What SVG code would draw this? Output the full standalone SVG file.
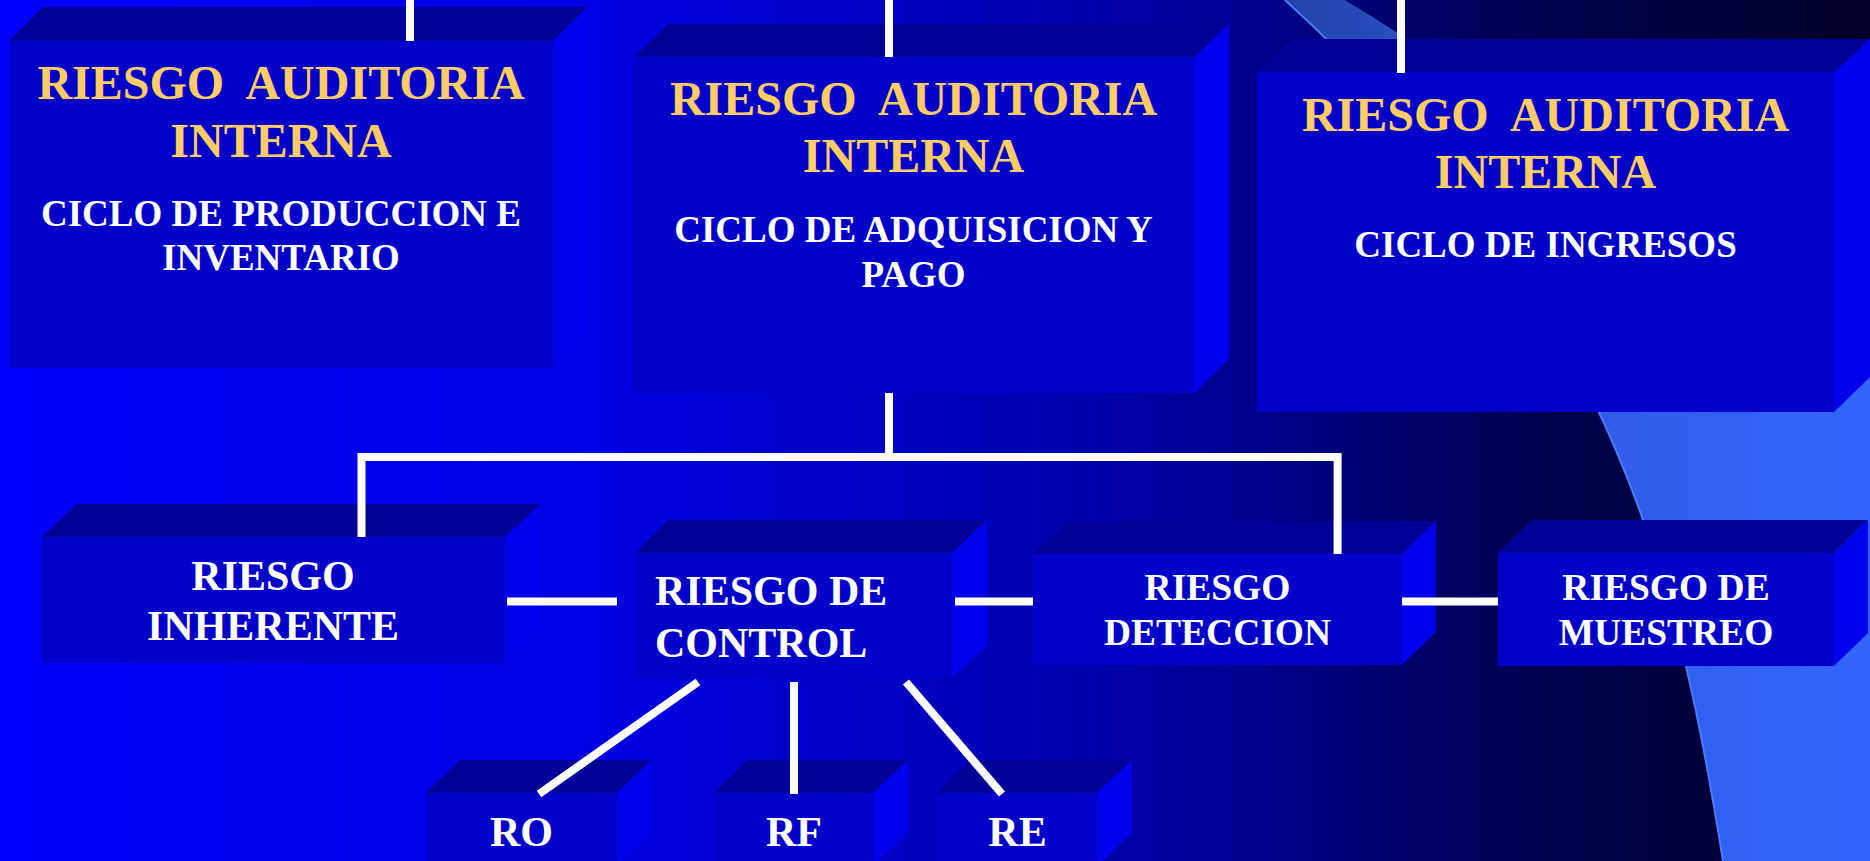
<svg xmlns="http://www.w3.org/2000/svg" width="1870" height="861" viewBox="0 0 1870 861">
<defs>
<linearGradient id="bg" x1="0" y1="0" x2="1870" y2="0" gradientUnits="userSpaceOnUse">
<stop offset="0" stop-color="#0000FF"/>
<stop offset="0.3" stop-color="#0000E6"/>
<stop offset="0.6" stop-color="#0000A8"/>
<stop offset="0.82" stop-color="#000050"/>
<stop offset="1" stop-color="#000028"/>
</linearGradient>
<linearGradient id="band" x1="1285" y1="0" x2="1870" y2="0" gradientUnits="userSpaceOnUse">
<stop offset="0" stop-color="#2244A8"/>
<stop offset="0.5" stop-color="#2F5CE6"/>
<stop offset="1" stop-color="#3366FF"/>
</linearGradient>
<style>
.front{fill:#0000C8;}
.top{fill:#000099;}
.side{fill:#0000EC;}
.or{font-family:"Liberation Serif","Times New Roman",serif;font-weight:bold;font-size:48px;fill:#FFCC66;text-anchor:middle;white-space:pre;}
.wt{font-family:"Liberation Serif","Times New Roman",serif;font-weight:bold;font-size:37px;fill:#FFFFFF;text-anchor:middle;}
.wl{font-family:"Liberation Serif","Times New Roman",serif;font-weight:bold;font-size:42px;fill:#FFFFFF;text-anchor:middle;}
.ws{font-family:"Liberation Serif","Times New Roman",serif;font-weight:bold;font-size:37.5px;fill:#FFFFFF;text-anchor:middle;}
.conn{stroke:#FFFFFF;stroke-width:8;fill:none;}
</style>
</defs>
<rect x="0" y="0" width="1870" height="861" fill="url(#bg)"/>
<path d="M1285,0 C1620.5,305 1681,597 1723,861 L1870,861 L1870,310 C1700,260 1512,100 1345,0 Z" fill="url(#band)"/>
<path d="M1285,0 C1620.5,305 1681,597 1723,861" fill="none" stroke="#4A7BFF" stroke-width="2"/>

<g id="box-produccion">
<polygon class="top" points="9,41 43,7 588,7 553,41"/>
<polygon class="side" points="553,41 588,7 588,334 553,368"/>
<rect class="front" x="9" y="41" width="544" height="327"/>
<text class="or" x="281" y="99" xml:space="preserve">RIESGO  AUDITORIA</text>
<text class="or" x="281" y="157">INTERNA</text>
<text class="wt" x="281" y="226">CICLO DE PRODUCCION E</text>
<text class="wt" x="281" y="270">INVENTARIO</text>
</g>

<g id="box-adquisicion">
<polygon class="top" points="634,57 668,24 1229,24 1194,57"/>
<polygon class="side" points="1194,57 1229,24 1229,359 1194,393"/>
<rect class="front" x="634" y="57" width="560" height="336"/>
<text class="or" x="913.5" y="115" xml:space="preserve">RIESGO  AUDITORIA</text>
<text class="or" x="913.5" y="172">INTERNA</text>
<text class="wt" x="913.5" y="242">CICLO DE ADQUISICION Y</text>
<text class="wt" x="913.5" y="287">PAGO</text>
</g>

<g id="box-ingresos">
<polygon class="top" points="1257,72 1293,39 1870,39 1834,72"/>
<polygon class="side" points="1834,72 1870,39 1870,377 1834,412"/>
<rect class="front" x="1257" y="72" width="577" height="340"/>
<text class="or" x="1545.5" y="131" xml:space="preserve">RIESGO  AUDITORIA</text>
<text class="or" x="1545.5" y="188">INTERNA</text>
<text class="wt" x="1545.5" y="257">CICLO DE INGRESOS</text>
</g>

<g id="box-inherente">
<polygon class="top" points="41.5,537 76.5,504 541,504 505,537"/>
<polygon class="side" points="505,537 541,504 541,630 505,663"/>
<rect class="front" x="41.5" y="537" width="463.5" height="126"/>
<text class="wl" x="273" y="590">RIESGO</text>
<text class="wl" x="273" y="640">INHERENTE</text>
</g>

<g id="box-control">
<polygon class="top" points="634.6,553 668,520 987,520 952,553"/>
<polygon class="side" points="952,553 987,520 987,645 952,678"/>
<rect class="front" x="634.6" y="553" width="317.4" height="125"/>
<text class="wl" x="655" y="605" style="text-anchor:start">RIESGO DE</text>
<text class="wl" x="655" y="657" style="text-anchor:start">CONTROL</text>
</g>

<g id="box-deteccion">
<polygon class="top" points="1033,554 1067,521 1436,521 1402,554"/>
<polygon class="side" points="1402,554 1436,521 1436,632 1402,665"/>
<rect class="front" x="1033" y="554" width="369" height="111"/>
<text class="ws" x="1217.5" y="600">RIESGO</text>
<text class="ws" x="1217.5" y="645">DETECCION</text>
</g>

<g id="box-muestreo">
<polygon class="top" points="1498,553 1532,520 1868,520 1834,553"/>
<polygon class="side" points="1834,553 1868,520 1868,633 1834,666"/>
<rect class="front" x="1498" y="553" width="336" height="113"/>
<text class="ws" x="1666" y="600">RIESGO DE</text>
<text class="ws" x="1666" y="645">MUESTREO</text>
</g>

<g id="box-ro">
<polygon class="top" points="425.5,793 460,760 651.5,760 617,793"/>
<polygon class="side" points="617,793 651.5,760 651.5,833 617,866"/>
<rect class="front" x="425.5" y="793" width="191.5" height="73"/>
<text class="wl" x="521.5" y="846">RO</text>
</g>

<g id="box-rf">
<polygon class="top" points="714,793 747,760 907.6,760 873.5,793"/>
<polygon class="side" points="873.5,793 907.6,760 907.6,833 873.5,866"/>
<rect class="front" x="714" y="793" width="159.5" height="73"/>
<text class="wl" x="794" y="846">RF</text>
</g>

<g id="box-re">
<polygon class="top" points="937,793 970,760 1132,760 1097,793"/>
<polygon class="side" points="1097,793 1132,760 1132,833 1097,866"/>
<rect class="front" x="937" y="793" width="160" height="73"/>
<text class="wl" x="1017.5" y="846">RE</text>
</g>

<g id="connectors">
<line class="conn" x1="410" y1="0" x2="410" y2="41"/>
<line class="conn" x1="889" y1="0" x2="889" y2="57"/>
<line class="conn" x1="1401" y1="0" x2="1401" y2="73"/>
<line class="conn" x1="889" y1="393" x2="889" y2="457"/>
<polyline class="conn" points="361.5,537 361.5,457 1337.6,457 1337.6,554"/>
<line class="conn" x1="507" y1="601.5" x2="617" y2="601.5"/>
<line class="conn" x1="955" y1="601.5" x2="1033" y2="601.5"/>
<line class="conn" x1="1402" y1="601.5" x2="1498" y2="601.5"/>
<line class="conn" x1="698" y1="682" x2="539" y2="794"/>
<line class="conn" x1="794" y1="682" x2="794" y2="794"/>
<line class="conn" x1="906" y1="682" x2="1002" y2="794"/>
</g>
</svg>
